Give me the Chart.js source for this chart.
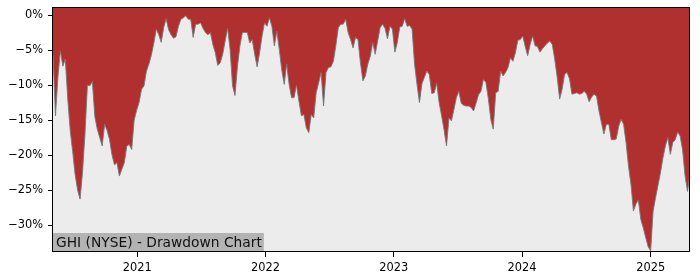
<!DOCTYPE html>
<html>
<head>
<meta charset="utf-8">
<script src="https://cdn.jsdelivr.net/npm/chart.js@4/dist/chart.umd.min.js"></script>
<style>
  html, body { margin: 0; padding: 0; background: #ffffff; }
  canvas { display: block; }
</style>
</head>
<body>
<canvas id="c" width="700" height="280"></canvas>
<script>
// ---- data ----
const startDate = '2020-05-06';   // first weekly observation
const stepDays = 7;               // weekly observations
const drawdownPct = [
  -5.6,-14.4,-8.9,-5.1,-7.3,-6.3,-12.0,-16.5,-19.5,-22.8,-25.0,-26.3,-22.5,-17.0,-10.0,-10.1,-9.5,-14.5,-16.3,-17.5,-18.7,-15.6,-16.5,-17.8,-20.0,-21.4,-21.1,-23.0,-22.0,-21.1,-18.7,-18.5,-19.2,-15.0,-13.6,-12.5,-10.6,-10.1,-8.0,-7.0,-5.7,-4.0,-2.0,-2.8,
  -3.9,-1.8,-0.5,-2.1,-2.8,-3.3,-3.1,-1.6,-0.6,-0.4,-0.1,-0.6,-0.6,-3.2,-1.3,-1.3,-1.1,-1.9,-2.5,-2.8,-2.5,-4.2,-5.4,-7.2,-6.8,-5.6,-3.7,-1.9,-4.9,-10.1,-11.5,-7.3,-4.4,-2.5,-2.5,-2.5,-4.0,-3.5,-5.6,-7.4,-5.4,-3.0,-1.1,
  -1.6,-0.4,-1.6,-4.4,-2.3,-4.9,-7.8,-9.9,-7.0,-9.9,-11.8,-11.8,-10.0,-12.3,-14.4,-14.2,-16.1,-16.8,-14.2,-14.7,-11.1,-9.7,-8.2,-13.0,-8.2,-7.5,-7.4,-6.6,-4.4,-1.8,-1.3,-1.3,-0.6,-2.5,-3.5,-4.7,-3.2,-3.5,-6.8,-9.4,-8.7,-7.0,-5.9,
  -3.9,-5.6,-3.7,-1.8,-1.3,-1.9,-3.4,-1.6,-2.0,-5.3,-3.9,-1.7,-1.6,-0.5,-1.6,-1.5,-2.0,-7.0,-9.9,-12.5,-9.8,-8.9,-8.0,-8.5,-11.2,-11.1,-9.7,-12.5,-14.4,-16.4,-18.7,-14.7,-15.1,-13.5,-11.8,-10.9,-12.6,-12.9,-13.0,-13.0,-13.2,-13.7,
  -12.6,-11.4,-10.9,-9.2,-9.6,-11.9,-14.9,-16.3,-11.1,-10.9,-8.0,-8.7,-8.2,-7.5,-6.1,-6.6,-5.4,-3.6,-3.5,-3.0,-4.5,-5.8,-4.2,-3.0,-4.4,-4.5,-5.3,-4.8,-4.4,-4.0,-3.7,-4.2,-6.3,-8.9,-12.0,-10.6,-8.5,-8.2,-9.1,-11.3,-11.2,-11.1,-11.3,
  -11.2,-10.9,-11.3,-12.4,-11.7,-11.3,-11.6,-13.7,-15.4,-17.0,-15.6,-15.6,-17.8,-17.8,-17.7,-15.9,-14.9,-15.6,-18.2,-21.6,-24.2,-28.0,-27.0,-26.4,-29.2,-30.4,-31.8,-33.1,-33.7,-28.0,-26.1,-24.3,-22.5,-20.4,-18.7,-17.5,-19.9,-18.2,-17.8,-16.7,-17.3,-19.3,-23.0,-25.2,-22.7
];
const xTickYears = [2021, 2022, 2023, 2024, 2025];
const yTickValues = [-30, -25, -20, -15, -10, -5, 0];
const yMin = -33.85, yMax = 1.15;
const titleText = 'GHI (NYSE) - Drawdown Chart';

// ---- build points ----
const DAY = 86400000;
const t0 = Date.parse(startDate + 'T00:00:00Z');
const points = drawdownPct.map((v, i) => ({ x: t0 + i * stepDays * DAY, y: v }));
const xMin = points[0].x, xMax = points[points.length - 1].x;

const bgPlugin = {
  id: 'plotBg',
  beforeDatasetsDraw(chart) {
    const a = chart.chartArea, ctx = chart.ctx;
    ctx.save();
    ctx.fillStyle = '#ececec';
    ctx.fillRect(a.left, a.top, a.right - a.left, a.bottom - a.top);
    ctx.restore();
  },
  afterDatasetsDraw(chart) {
    const a = chart.chartArea, ctx = chart.ctx;
    ctx.save();
    // title box
    ctx.fillStyle = '#b3b3b3';
    ctx.font = '13.8px "DejaVu Sans"';
    const w = ctx.measureText(titleText).width;
    ctx.fillRect(a.left, a.bottom - 19, w + 5, 19);
    ctx.fillStyle = '#111111';
    ctx.textBaseline = 'alphabetic';
    ctx.fillText(titleText, a.left + 3, a.bottom - 5.5);
    // frame
    ctx.strokeStyle = '#000000';
    ctx.lineWidth = 1;
    ctx.strokeRect(Math.round(a.left) - 0.5, Math.round(a.top) + 0.5,
                   Math.round(a.right - a.left), Math.round(a.bottom - a.top) - 1);
    ctx.restore();
  }
};

function zeroPad(s) { s.paddingTop = 0; s.paddingBottom = 0; s.paddingLeft = 0; s.paddingRight = 0; }

new Chart(document.getElementById('c'), {
  type: 'line',
  data: {
    datasets: [{
      data: points,
      borderColor: 'rgba(120,120,120,0.9)',
      borderWidth: 1,
      backgroundColor: '#b03030',
      fill: 'end',
      pointRadius: 0,
      tension: 0
    }]
  },
  options: {
    responsive: false,
    animation: false,
    devicePixelRatio: 1,
    layout: { padding: { top: 7, right: 10, left: 0, bottom: 0 } },
    plugins: { legend: { display: false }, tooltip: { enabled: false } },
    scales: {
      x: {
        type: 'linear',
        min: xMin, max: xMax,
        afterBuildTicks(s) { s.ticks = xTickYears.map(y => ({ value: Date.UTC(y, 0, 1) })); },
        afterFit(s) { s.height = 28; zeroPad(s); },
        ticks: {
          callback: v => String(new Date(v).getUTCFullYear()),
          color: '#000', font: { family: 'DejaVu Sans', size: 11.4 }, padding: 4,
          maxRotation: 0, autoSkip: false
        },
        grid: { drawOnChartArea: false, drawTicks: true, tickLength: 5, color: '#000', tickWidth: 1 },
        border: { display: false }
      },
      y: {
        min: yMin, max: yMax,
        afterBuildTicks(s) { s.ticks = yTickValues.map(v => ({ value: v })); },
        afterFit(s) { s.width = 53; zeroPad(s); },
        ticks: {
          callback: v => (v < 0 ? '\u2212' : '') + Math.abs(v) + '%',
          color: '#000', font: { family: 'DejaVu Sans', size: 11.4 }, padding: 5, autoSkip: false
        },
        grid: { drawOnChartArea: false, drawTicks: true, tickLength: 5, color: '#000', tickWidth: 1 },
        border: { display: false }
      }
    }
  },
  plugins: [bgPlugin]
});
</script>
</body>
</html>
